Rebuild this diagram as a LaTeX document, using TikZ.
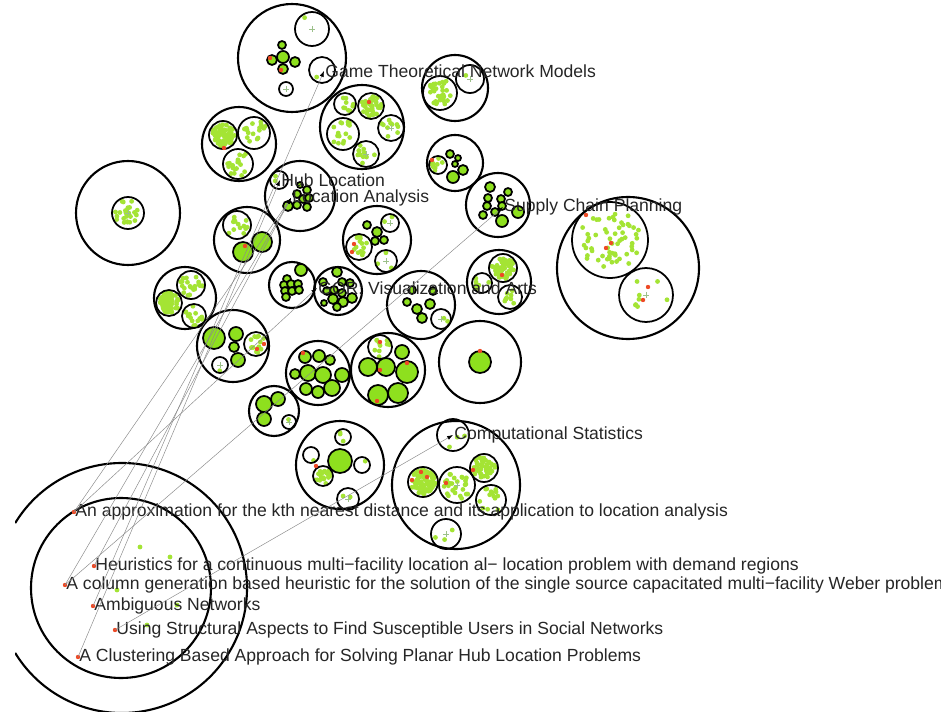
\documentclass[tikz,border=0pt]{standalone}
\usepackage{fontspec}
\setmainfont{Liberation Sans}
\usetikzlibrary{arrows.meta}
\definecolor{LeafGreen}{HTML}{8EE01E}
\definecolor{DotGreen}{HTML}{A4E434}
\definecolor{HotRed}{HTML}{EE4A26}
\definecolor{LinkGray}{HTML}{8A8A8A}
\definecolor{PlusGray}{HTML}{9CC08A}
\tikzset{
 grp/.style={draw=black,line width=1.8pt},
 sub/.style={draw=black,line width=1.5pt},
 leaf/.style={draw=black,line width=1.5pt,fill=LeafGreen},
 plusmark/.style={draw=PlusGray,line width=0.5pt},
 cat/.style={anchor=west,inner sep=1pt,text=black!85,font=\fontsize{15}{17}\selectfont},
 paper/.style={anchor=west,inner sep=1pt,text=black!85,font=\fontsize{15}{17}\selectfont},
 link/.style={draw=LinkGray,line width=0.4pt,-{Latex[color=black,length=5pt,width=3.5pt]}},
}
% cloud of small dots inside a circle: x, y, radius, count
\newcommand{\dotcloud}[4]{%
 \foreach \k in {1,...,#4}{%
  \pgfmathsetmacro{\ang}{rnd*360}%
  \pgfmathsetmacro{\rad}{sqrt(rnd)*#3*0.82}%
  \fill[DotGreen] ({#1+\rad*cos(\ang)},{#2+\rad*sin(\ang)}) circle (2.4);
 }}
\begin{document}
\begin{tikzpicture}[x=0.03cm,y=-0.03cm]
\pgfmathsetseed{11}
\useasboundingbox (0,0) rectangle (952,712);
\fill[white] (0,0) rectangle (952,712);
\begin{scope}
\clip (15,0) rectangle (940,712);
% outer groups
\foreach \x/\y/\r in {292/58/54,455/88/33,362/127/42,239/144/37,128/213/52,300/196/35,
 455/163/28,498/205/32,247/240/33,377/240/34,628/268/71,185/298/31,292/285/23,338/291/24,
 421/305/34,499/282/32,233/346/36,318/373/32,388/370/37,480/362/41,274/411/25,340/465/44,
 456/485/64,121/588/90}
 \draw[grp] (\x,\y) circle (\r);
\draw[grp] (122,588) ++(-148.7:125) arc (-148.7:148.7:125);
% sub groups with their members
\foreach \x/\y/\r/\n in {312/29/17/1,322/70/13/1,440/93/17/34,470/79/14/1,345/104/11/9,
 371/106/13/40,343/134/16/16,391/128/13/10,366/154/13/11,223/135/14/70,254/133/16/18,
 238/164/15/18,128/213/16/28,279/180/9/2,438/165/9/8,237/225/14/13,359/247/13/14,
 390/223/9/2,386/261/11/3,610/240/38/58,646/295/27/8,191/285/14/22,169/303/13/70,
 194/316/12/16,441/319/10/2,503/268/14/55,482/283/10/6,510/297/12/9,256/344/12/14,
 220/365/8/1,380/347/12/11,289/422/7/1,343/437/8/3,311/455/8/1,323/476/10/22,
 362/465/8/1,348/499/11/2,453/435/16/3,423/482/15/80,457/485/18/26,484/468/14/50,
 491/500/15/14,446/534/15/3}
 {\dotcloud{\x}{\y}{\r}{\n}
  \draw[sub] (\x,\y) circle (\r);}
% filled members
\foreach \x/\y/\r in {282/45/4,283/57/6,272/60/5,283/69/5,295/62/5,
 300/185/3,307/190/4,297/194/4,303/199/4,309/198/4,288/206/5,297/205/4,307/207/4,
 450/154/4,458/158/3,455/164/3,463/170/5,453/177/6,
 490/187/5,488/198/4,501/199/4,508/192/4,487/206/4,502/206/4,483/215/4,495/212/4,502/221/6,518/212/6,
 262/242/10,243/252/10,367/225/4,377/232/5,375/241/4,384/240/4,
 301/270/6,287/279/4,284/285/4,291/284/4,298/284/4,285/291/4,292/291/4,299/290/4,286/297/4,
 337/272/5,323/282/4,342/282/4,350/283/4,327/291/4,334/290/4,342/293/4,333/299/5,343/302/5,352/298/5,337/307/4,324/303/3,
 407/302/4,417/309/5,430/304/5,422/318/5,433/291/4,412/290/4,
 214/338/11,236/334/7,234/347/5,238/360/7,
 305/357/6,319/356/6,330/360/5,295/374/5,308/373/8,323/375/8,342/375/7,306/389/6,318/392/6,332/388/8,
 402/352/7,368/367/9,386/367/9,407/372/11,378/395/10,398/393/10,
 480/362/11,264/404/8,278/399/7,264/419/7,340/461/12}
 \draw[leaf] (\x,\y) circle (\r);
% centre marks
\foreach \x/\y in {312/29,286/89,470/79,391/128,366/154,390/223,386/261,441/319,220/365,
 289/422,348/499,446/534,128/213,457/485,646/295}
 \draw[plusmark] (\x-3,\y) -- (\x+3,\y) (\x,\y-3) -- (\x,\y+3);
\draw[sub] (286,89) circle (7);
% red members
\foreach \x/\y in {369/102,270/58,281/70,432/160,224/148,245/246,354/244,352/252,257/349,
 264/344,380/342,407/363,427/477,412/480,446/483,586/215,611/243,606/248,648/287,643/300,
 303/353,380/370,480/351,377/401,316/466,473/470,502/275,421/472}
 \fill[HotRed] (\x,\y) circle (2.2);
% loose members of the big group
\foreach \x/\y in {140/547,170/557,117/590,177/605,147/625}
 \fill[DotGreen] (\x,\y) circle (2.4);
% topic labels
\node[cat] (cGame) at (324,71) {Game Theoretical Network Models};
\node[cat] (cHub) at (280,180) {Hub Location};
\node[cat] (cLoc) at (291,198) {Location Analysis};
\node[cat] (cSupply) at (503,207) {Supply Chain Planning};
\node[cat] (cVis) at (317,288) {GOR: Visualization and Arts};
\node[cat] (cStat) at (453,435) {Computational Statistics};
% paper labels
\node[paper] (p1) at (74,512) {An approximation for the kth nearest distance and its application to location analysis};
\node[paper] (p2) at (94,566) {Heuristics for a continuous multi−facility location al− location problem with demand regions};
\node[paper] (p3) at (65,585) {A column generation based heuristic for the solution of the single source capacitated multi−facility Weber problem};
\node[paper] (p4) at (93,606) {Ambiguous Networks};
\node[paper] (p5) at (115,630) {Using Structural Aspects to Find Susceptible Users in Social Networks};
\node[paper] (p6) at (78,657) {A Clustering Based Approach for Solving Planar Hub Location Problems};
\foreach \p in {p1,p2,p3,p4,p5,p6}
 \fill[HotRed] (\p.west) circle (2.2);
% links
\draw[link] (p4.west) -- (cGame.west);
\draw[link] (p6.west) -- (cHub.west);
\draw[link] (p2.west) -- (cLoc.west);
\draw[link] (p3.west) -- (cLoc.west);
\draw[link] (p1.west) -- (cLoc.west);
\draw[link] (p3.west) -- (cSupply.west);
\draw[link] (p1.west) -- (cVis.west);
\draw[link] (p5.west) -- (cStat.west);
\end{scope}
\end{tikzpicture}
\end{document}
